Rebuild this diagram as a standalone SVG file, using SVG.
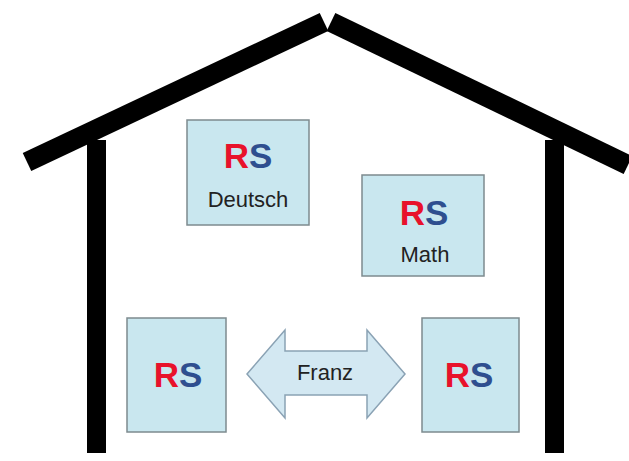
<svg xmlns="http://www.w3.org/2000/svg" width="629" height="461" viewBox="0 0 629 461">
<style>
.house{stroke:#000;stroke-width:20;stroke-linecap:butt;fill:none}
.box{fill:#c9e7ef;stroke:#7d8b8f;stroke-width:1.5}
.rs{font-family:"Liberation Sans",Arial,sans-serif;font-weight:bold;font-size:35px;text-anchor:middle}
.r{fill:#e8122b}
.s{fill:#2f4f8f}
.lbl{font-family:"Liberation Sans",Arial,sans-serif;font-size:22px;fill:#222;text-anchor:middle}
.arrow{fill:#d3e8f2;stroke:#8aa2b4;stroke-width:1.5}
</style>
<rect width="629" height="461" fill="#fff"/>
<g id="house">
<line class="house" x1="27" y1="162" x2="324" y2="22" stroke-width="21"/>
<line class="house" x1="331" y1="22" x2="628" y2="165" stroke-width="21"/>
<rect x="87" y="140" width="19" height="313" fill="#000"/>
<rect x="545" y="140" width="19" height="313" fill="#000"/>
</g>
<g id="deutsch">
<rect class="box" x="187" y="120" width="122" height="105"/>
<text class="rs" x="248" y="168"><tspan class="r">R</tspan><tspan class="s">S</tspan></text>
<text class="lbl" x="248" y="207">Deutsch</text>
</g>
<g id="math">
<rect class="box" x="362" y="175" width="122" height="101"/>
<text class="rs" x="424" y="225"><tspan class="r">R</tspan><tspan class="s">S</tspan></text>
<text class="lbl" x="425" y="262">Math</text>
</g>
<g id="left">
<rect class="box" x="127" y="318" width="99" height="114"/>
<text class="rs" x="178" y="387"><tspan class="r">R</tspan><tspan class="s">S</tspan></text>
</g>
<g id="right">
<rect class="box" x="422" y="318" width="97" height="114"/>
<text class="rs" x="469" y="387"><tspan class="r">R</tspan><tspan class="s">S</tspan></text>
</g>
<g id="connectors">
<path class="arrow" d="M247,374 L285,330 L285,351 L367,351 L367,330 L405,374 L367,418 L367,395 L285,395 L285,418 Z"/>
<text class="lbl" x="325" y="380" font-size="21">Franz</text>
</g>
</svg>
